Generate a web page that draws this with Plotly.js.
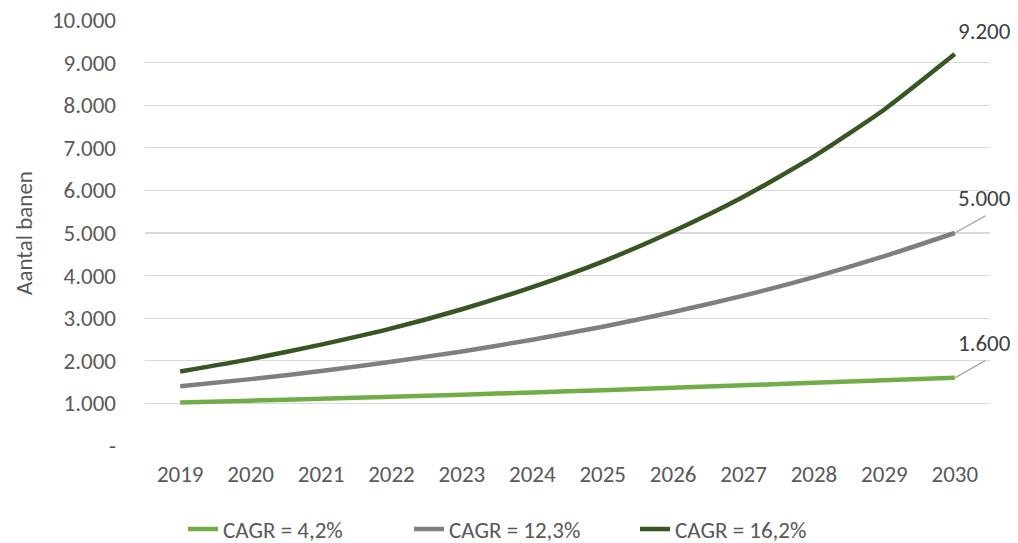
<!DOCTYPE html>
<html>
<head>
<meta charset="utf-8">
<script src="https://cdn.plot.ly/plotly-3.0.1.min.js"></script>
<style>
  html, body { margin: 0; padding: 0; background: #fff; }
  #chart { width: 1018px; height: 543px; }
</style>
</head>
<body>
<div id="chart"></div>
<script>
// Years on the category axis
const years = ['2019','2020','2021','2022','2023','2024','2025','2026','2027','2028','2029','2030'];

// Number of courts per scenario
const lowGrowth  = [1020, 1065, 1110, 1155, 1205, 1255, 1310, 1365, 1425, 1485, 1545, 1600];
const midGrowth  = [1400, 1570, 1760, 1980, 2220, 2495, 2800, 3145, 3530, 3965, 4455, 5000];
const highGrowth = [1750, 2040, 2380, 2760, 3210, 3730, 4330, 5040, 5850, 6800, 7900, 9200];

const seriesNames = ['CAGR = 4,2%', 'CAGR = 12,3%', 'CAGR = 16,2%'];
const seriesColors = ['#70ad47', '#7f7f7f', '#375623'];

// Y axis ticks (zero shown as a dash)
const yTickVals = [0, 1000, 2000, 3000, 4000, 5000, 6000, 7000, 8000, 9000, 10000];
const yTickText = ['-', '1.000', '2.000', '3.000', '4.000', '5.000', '6.000', '7.000', '8.000', '9.000', '10.000'];

const font = 'Carlito, Calibri, sans-serif';
const allSeries = [lowGrowth, midGrowth, highGrowth];

const traces = allSeries.map((vals, i) => ({
  type: 'scatter',
  mode: 'lines',
  x: years,
  y: vals,
  name: seriesNames[i],
  line: { color: seriesColors[i], width: 4.5, shape: 'spline', smoothing: 0.6 },
  hoverinfo: 'skip'
}));

// thousands separator with a dot
const fmt = v => String(v).replace(/\B(?=(\d{3})+(?!\d))/g, '.');
const lastIdx = years.length - 1;   // category index of the final year

const labelFont = { family: font, size: 23, color: '#404040' };
const annotations = [];

// end-of-line value labels
annotations.push({
  x: lastIdx, y: highGrowth[lastIdx], xref: 'x', yref: 'y',
  text: fmt(highGrowth[lastIdx]), showarrow: false,
  xshift: 30, yshift: 23, font: labelFont
});
[midGrowth, lowGrowth].forEach(vals => {
  // leader line from the last point
  annotations.push({
    x: lastIdx, y: vals[lastIdx], xref: 'x', yref: 'y',
    text: '', showarrow: true, arrowhead: 0, arrowwidth: 1.3,
    arrowcolor: '#a6a6a6', standoff: 0, startstandoff: 0,
    axref: 'pixel', ayref: 'pixel', ax: 32, ay: -18
  });
  annotations.push({
    x: lastIdx, y: vals[lastIdx], xref: 'x', yref: 'y',
    text: fmt(vals[lastIdx]), showarrow: false,
    xshift: 30, yshift: 35, font: labelFont
  });
});

const layout = {
  width: 1018,
  height: 543,
  margin: { l: 145, r: 28, t: 20, b: 97, autoexpand: false },
  paper_bgcolor: '#ffffff',
  plot_bgcolor: '#ffffff',
  font: { family: font, color: '#595959', size: 23 },
  showlegend: true,
  legend: {
    orientation: 'h',
    x: 0.045, xanchor: 'left',
    y: -0.195, yanchor: 'middle',
    entrywidth: 181, entrywidthmode: 'pixels',
    font: { family: font, size: 23, color: '#595959' },
    traceorder: 'normal'
  },
  xaxis: {
    type: 'category',
    range: [-0.5, 11.5],
    showgrid: false,
    zeroline: false,
    showline: false,
    ticks: '',
    ticklabelstandoff: 12,
    tickfont: { family: font, size: 23, color: '#595959' }
  },
  yaxis: {
    range: [0, 10000],
    tickvals: yTickVals,
    ticktext: yTickText,
    showgrid: true,
    gridcolor: '#d9d9d9',
    gridwidth: 1.3,
    zeroline: false,
    showline: false,
    ticks: '',
    ticklabelstandoff: 28,
    tickfont: { family: font, size: 23, color: '#595959' },
    title: { text: 'Aantal banen', standoff: 12, font: { family: font, size: 23, color: '#595959' } }
  },
  annotations: annotations
};

Plotly.newPlot('chart', traces, layout, { displayModeBar: false, staticPlot: true });
</script>
</body>
</html>
